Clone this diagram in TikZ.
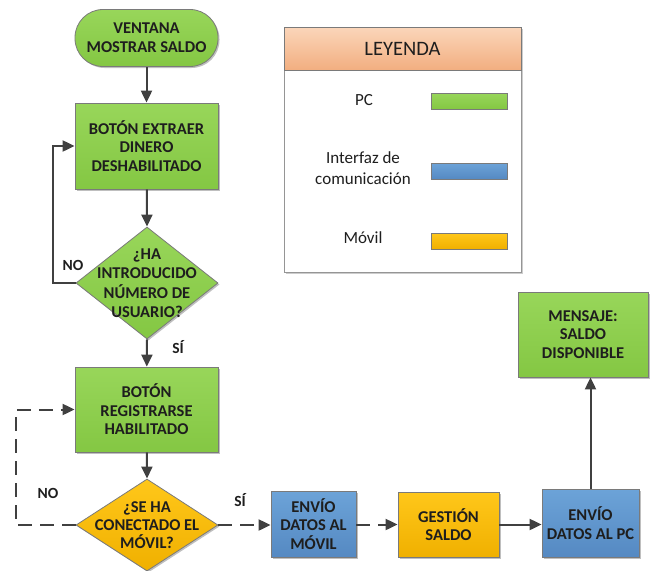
\documentclass[tikz,border=0pt]{standalone}
\usepackage{fontspec}
\setmainfont{Carlito}
\usetikzlibrary{shapes.geometric,arrows.meta,shadows}
\definecolor{ink}{HTML}{1E1E1E}
\definecolor{edge}{HTML}{7A7A7A}
\definecolor{wire}{HTML}{404040}
\definecolor{pcA}{HTML}{98D65A}
\definecolor{pcB}{HTML}{84C743}
\definecolor{ifA}{HTML}{6CA3D8}
\definecolor{ifB}{HTML}{5589C2}
\definecolor{mvA}{HTML}{FFC71A}
\definecolor{mvB}{HTML}{F0B000}
\definecolor{hdA}{HTML}{FBD6BA}
\definecolor{hdB}{HTML}{F2AE80}
\tikzset{
  x=1pt, y=-1pt,
  base/.style={draw=edge, line width=0.8pt, text=ink,
    font=\fontsize{16.5}{18.6}\selectfont\bfseries, align=center,
    drop shadow={shadow xshift=1.5pt, shadow yshift=-1.5pt, opacity=0.25, fill=black}},
  pc/.style={base, top color=pcA, bottom color=pcB},
  comm/.style={base, top color=ifA, bottom color=ifB},
  movil/.style={base, top color=mvA, bottom color=mvB},
  stepbox/.style={rectangle, inner sep=0pt},
  endcap/.style={rectangle, rounded corners=28pt, inner sep=0pt,
    minimum width=143pt, minimum height=57pt},
  decision/.style={diamond, inner sep=0pt},
  qtext/.style={font=\fontsize{16.5}{19.5}\selectfont\bfseries, text=ink, align=center},
  tag/.style={font=\fontsize{15.5}{18}\selectfont\bfseries, text=ink},
  flow/.style={draw=wire, line width=2pt, -{Triangle[length=12pt,width=11pt]}},
  gap/.style={dash pattern=on 14pt off 8pt},
  legtext/.style={font=\fontsize{17}{20.5}\selectfont, text=ink, align=center},
  swatch/.style={draw=edge, line width=0.8pt, minimum width=76pt, minimum height=16pt, inner sep=0pt,
    drop shadow={shadow xshift=1pt, shadow yshift=-1pt, opacity=0.25, fill=black}}
}
\begin{document}
\begin{tikzpicture}
\useasboundingbox (0,0) rectangle (652,570);

% main flow on the left
\node[pc, endcap] (start) at (146.5,38) {VENTANA\\MOSTRAR SALDO};
\node[pc, stepbox, minimum width=143pt, minimum height=86pt] (disabled) at (146.5,146) {BOTÓN EXTRAER\\DINERO\\DESHABILITADO};
\node[pc, decision, minimum width=142pt, minimum height=112pt] (askuser) at (147,283) {};
\node[qtext] (askusertxt) at (askuser) {¿HA\\INTRODUCIDO\\NÚMERO DE\\USUARIO?};
\node[pc, stepbox, minimum width=143pt, minimum height=85pt] (enabled) at (146.5,409.5) {BOTÓN\\REGISTRARSE\\HABILITADO};
\node[movil, decision, minimum width=142pt, minimum height=92pt] (askmobile) at (147,525) {};
\node[qtext, font=\fontsize{16.5}{18}\selectfont\bfseries] (askmobiletxt) at (askmobile) {¿SE HA\\CONECTADO EL\\MÓVIL?};

% bottom row and message
\node[comm, stepbox, minimum width=85pt, minimum height=66pt] (tomobile) at (313.5,524) {ENVÍO\\DATOS AL\\MÓVIL};
\node[movil, stepbox, minimum width=101pt, minimum height=65pt] (balance) at (448.5,524.5) {GESTIÓN\\SALDO};
\node[comm, stepbox, minimum width=97pt, minimum height=68pt] (topc) at (590.5,523) {ENVÍO\\DATOS AL PC};
\node[pc, stepbox, minimum width=130pt, minimum height=85pt] (message) at (583,334.5) {MENSAJE:\\SALDO\\DISPONIBLE};

% connectors
\draw[flow] (start) -- (disabled);
\draw[flow] (disabled) -- (askuser.north);
\coordinate (loopA) at (53,283);
\draw[flow] (askuser.west) -- (loopA) |- (disabled.west);
\node[tag] (noA) at (73,265) {NO};
\draw[flow] (askuser.south) -- (enabled);
\node[tag] (yesA) at (178,347) {SÍ};
\draw[flow] (enabled) -- (askmobile.north);
\coordinate (loopB) at (16,525);
\draw[flow, gap] (askmobile.west) -- (loopB) |- (enabled.west);
\node[tag] (noB) at (48,493) {NO};
\draw[flow, gap] (askmobile.east) -- (tomobile.west |- askmobile.east);
\node[tag] (yesB) at (240,500) {SÍ};
\draw[flow, gap] (tomobile.east |- balance.west) -- (balance.west);
\draw[flow] (balance.east) -- (topc.west |- balance.east);
\draw[flow] (topc.north) -- (topc.north |- message.south);

% legend
\node[draw=edge!80, line width=0.7pt, fill=white, minimum width=237pt, minimum height=245pt, inner sep=0pt,
  drop shadow={shadow xshift=1.5pt, shadow yshift=-1.5pt, opacity=0.2, fill=black}] (legend) at (402.5,149.5) {};
\node[draw=edge, line width=0.7pt, top color=hdA, bottom color=hdB, minimum width=237pt, minimum height=43pt, inner sep=0pt,
  font=\fontsize{20.5}{24}\selectfont, text=ink] (legendhead) at (402.5,48.5) {LEYENDA};
\node[legtext] (lpc) at (364,100) {PC};
\node[swatch, top color=pcA, bottom color=pcB] (spc) at (469,101) {};
\node[legtext] (lif) at (363,168) {Interfaz de\\comunicación};
\node[swatch, top color=ifA, bottom color=ifB] (sif) at (469,171) {};
\node[legtext] (lmv) at (363,238) {Móvil};
\node[swatch, top color=mvA, bottom color=mvB] (smv) at (469,241) {};
\end{tikzpicture}
\end{document}
